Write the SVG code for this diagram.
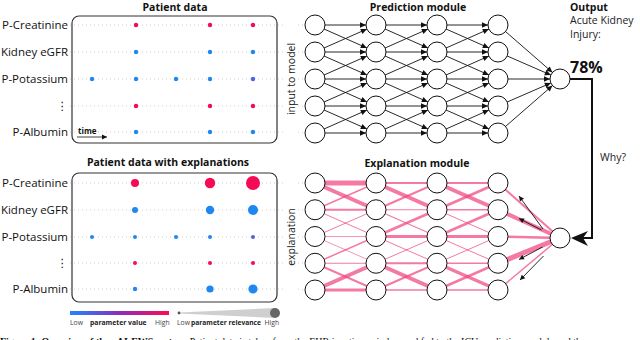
<svg xmlns="http://www.w3.org/2000/svg" width="640" height="340" viewBox="0 0 640 340">
<style>
.lbl{font-family:"Open Sans","Noto Sans","DejaVu Sans",sans-serif;font-size:11.5px;fill:#111}
.ttl{font-family:"Open Sans","Noto Sans","DejaVu Sans",sans-serif;font-size:10.5px;font-weight:bold;fill:#111}
.txt{font-family:"Open Sans","Noto Sans","DejaVu Sans",sans-serif;font-size:10.5px;fill:#222}
.leg{font-family:"Open Sans","Noto Sans","DejaVu Sans",sans-serif;font-size:6.8px;fill:#444}
.box{fill:none;stroke:#333;stroke-width:1.2}
.dot{stroke:#c4c4c4;stroke-width:0.8;stroke-dasharray:1 3}
.nd{fill:#fff;stroke:#111;stroke-width:1}
.pc line{stroke:#111;stroke-width:0.9}
.ec line{stroke:#f0457f;stroke-opacity:0.72}
.r{fill:#f50a55}.b{fill:#1f87f0}.p{fill:#4b63e6}
</style>
<defs>
<marker id="ah" markerUnits="userSpaceOnUse" markerWidth="20" markerHeight="10" refX="0" refY="0" orient="auto" overflow="visible">
<path d="M-16,-2.8 L-10,0 L-16,2.8 z" fill="#111"/>
</marker>
<marker id="sa" markerUnits="userSpaceOnUse" markerWidth="10" markerHeight="10" refX="0" refY="0" orient="auto" overflow="visible">
<path d="M-5,-2.5 L0,0 L-5,2.5 z" fill="#111"/>
</marker>
<linearGradient id="pv" x1="0" x2="1" y1="0" y2="0">
<stop offset="0" stop-color="#1e88ff"/>
<stop offset="0.5" stop-color="#8a2cc0"/>
<stop offset="1" stop-color="#ff0a50"/>
</linearGradient>
</defs>

<!-- titles -->
<text class="ttl" x="175" y="11" text-anchor="middle">Patient data</text>
<text class="ttl" x="168" y="166" text-anchor="middle">Patient data with explanations</text>
<text class="ttl" x="418" y="11" text-anchor="middle">Prediction  module</text>
<text class="ttl" x="417" y="167" text-anchor="middle">Explanation module</text>

<!-- patient data panel -->
<g id="patient-data">
<line class="dot" x1="70" y1="25" x2="283" y2="25"/><line class="dot" x1="298" y1="25" x2="304" y2="25"/>
<line class="dot" x1="70" y1="52" x2="283" y2="52"/><line class="dot" x1="298" y1="52" x2="304" y2="52"/>
<line class="dot" x1="70" y1="79" x2="283" y2="79"/><line class="dot" x1="298" y1="79" x2="304" y2="79"/>
<line class="dot" x1="70" y1="106" x2="283" y2="106"/><line class="dot" x1="298" y1="106" x2="304" y2="106"/>
<line class="dot" x1="70" y1="132" x2="283" y2="132"/><line class="dot" x1="298" y1="132" x2="304" y2="133"/>
<rect class="box" x="72" y="16" width="205" height="127" rx="7"/>
<text class="lbl" x="68" y="29" text-anchor="end">P-Creatinine</text>
<text class="lbl" x="68" y="56" text-anchor="end">Kidney eGFR</text>
<text class="lbl" x="68" y="83" text-anchor="end">P-Potassium</text>
<text class="lbl" x="68" y="110" text-anchor="end">⋮</text>
<text class="lbl" x="68" y="136" text-anchor="end">P-Albumin</text>
<circle class="r" cx="136" cy="25" r="2.2"/><circle class="r" cx="210" cy="25" r="2.2"/><circle class="r" cx="253" cy="25" r="2.2"/>
<circle class="b" cx="136" cy="52" r="2.2"/><circle class="b" cx="210" cy="52" r="2.2"/><circle class="b" cx="253" cy="52" r="2.2"/>
<circle class="b" cx="92" cy="79" r="2.2"/><circle class="b" cx="136" cy="79" r="2.2"/><circle class="b" cx="176" cy="79" r="2.2"/><circle class="b" cx="210" cy="79" r="2.2"/><circle class="p" cx="253" cy="79" r="2.2"/>
<circle class="r" cx="136" cy="106" r="2.2"/><circle class="r" cx="210" cy="106" r="2.2"/><circle class="r" cx="253" cy="106" r="2.2"/>
<circle class="b" cx="136" cy="132" r="2.2"/><circle class="b" cx="210" cy="132" r="2.2"/><circle class="b" cx="253" cy="132" r="2.2"/>
<text x="78" y="134" style="font-family:'Open Sans','DejaVu Sans',sans-serif;font-size:8px;font-weight:bold;fill:#111">time</text>
<line x1="77" y1="137" x2="107" y2="137" stroke="#111" stroke-width="0.8" marker-end="url(#sa)"/>
</g>

<!-- patient data with explanations -->
<g id="patient-data-explanations">
<line class="dot" x1="70" y1="183" x2="283" y2="183"/><line class="dot" x1="298" y1="183" x2="304" y2="183"/>
<line class="dot" x1="70" y1="210" x2="283" y2="210"/><line class="dot" x1="298" y1="210" x2="304" y2="210"/>
<line class="dot" x1="70" y1="237" x2="283" y2="237"/><line class="dot" x1="298" y1="237" x2="304" y2="237"/>
<line class="dot" x1="70" y1="263" x2="283" y2="263"/><line class="dot" x1="298" y1="263" x2="304" y2="263"/>
<line class="dot" x1="70" y1="289" x2="283" y2="289"/><line class="dot" x1="298" y1="289" x2="304" y2="290"/>
<rect class="box" x="72" y="173" width="205" height="129" rx="7"/>
<text class="lbl" x="68" y="187" text-anchor="end">P-Creatinine</text>
<text class="lbl" x="68" y="214" text-anchor="end">Kidney eGFR</text>
<text class="lbl" x="68" y="241" text-anchor="end">P-Potassium</text>
<text class="lbl" x="68" y="267" text-anchor="end">⋮</text>
<text class="lbl" x="68" y="293" text-anchor="end">P-Albumin</text>
<circle class="r" cx="135" cy="183" r="4"/><circle class="r" cx="210" cy="183" r="5.2"/><circle class="r" cx="253" cy="183" r="7"/>
<circle class="b" cx="135" cy="210" r="3"/><circle class="b" cx="210" cy="210" r="4.2"/><circle class="b" cx="253" cy="210" r="5"/>
<circle class="b" cx="92" cy="237" r="2"/><circle class="b" cx="135" cy="237" r="2"/><circle class="b" cx="176" cy="237" r="2"/><circle class="b" cx="210" cy="237" r="2"/><circle class="p" cx="253" cy="237" r="2"/>
<circle class="r" cx="135" cy="263" r="2"/><circle class="r" cx="210" cy="263" r="2"/><circle class="r" cx="253" cy="263" r="2"/>
<circle class="b" cx="135" cy="289" r="2.2"/><circle class="b" cx="210" cy="289" r="3.6"/><circle class="b" cx="253" cy="289" r="4.6"/>
</g>

<!-- legend -->
<g id="legend">
<rect x="70" y="311" width="99" height="4" fill="url(#pv)"/>
<text class="leg" x="70" y="325">Low</text>
<text class="leg" x="90" y="325" font-weight="bold" style="fill:#222">parameter value</text>
<text class="leg" x="155" y="325">High</text>
<polygon points="179,312.6 275,308 275,318 179,313.4" fill="#cfcfcf"/>
<circle cx="179" cy="313" r="1.4" fill="#555"/>
<circle cx="275" cy="313" r="5" fill="#666"/>
<text class="leg" x="177" y="325">Low</text>
<text class="leg" x="191" y="325" font-weight="bold" style="fill:#222" textLength="70" lengthAdjust="spacingAndGlyphs">parameter relevance</text>
<text class="leg" x="264.5" y="325">High</text>
</g>

<!-- vertical labels -->
<text class="txt" transform="translate(295,79) rotate(-90)" text-anchor="middle">input to model</text>
<text class="txt" transform="translate(295,237) rotate(-90)" text-anchor="middle">explanation</text>

<!-- connectors -->
<g id="connectors">
<g class="pc" marker-end="url(#ah)">
<line x1="315" y1="25" x2="376" y2="25"/><line x1="315" y1="25" x2="376" y2="52"/>
<line x1="315" y1="52" x2="376" y2="25"/><line x1="315" y1="52" x2="376" y2="52"/><line x1="315" y1="52" x2="376" y2="79"/>
<line x1="315" y1="79" x2="376" y2="52"/><line x1="315" y1="79" x2="376" y2="79"/><line x1="315" y1="79" x2="376" y2="106"/>
<line x1="315" y1="106" x2="376" y2="79"/><line x1="315" y1="106" x2="376" y2="106"/><line x1="315" y1="106" x2="376" y2="133"/>
<line x1="315" y1="133" x2="376" y2="106"/><line x1="315" y1="133" x2="376" y2="133"/>
<line x1="376" y1="25" x2="437" y2="25"/><line x1="376" y1="25" x2="437" y2="52"/>
<line x1="376" y1="52" x2="437" y2="25"/><line x1="376" y1="52" x2="437" y2="52"/><line x1="376" y1="52" x2="437" y2="79"/>
<line x1="376" y1="79" x2="437" y2="52"/><line x1="376" y1="79" x2="437" y2="79"/><line x1="376" y1="79" x2="437" y2="106"/>
<line x1="376" y1="106" x2="437" y2="79"/><line x1="376" y1="106" x2="437" y2="106"/><line x1="376" y1="106" x2="437" y2="133"/>
<line x1="376" y1="133" x2="437" y2="106"/><line x1="376" y1="133" x2="437" y2="133"/>
<line x1="437" y1="25" x2="498" y2="25"/><line x1="437" y1="25" x2="498" y2="52"/>
<line x1="437" y1="52" x2="498" y2="25"/><line x1="437" y1="52" x2="498" y2="52"/><line x1="437" y1="52" x2="498" y2="79"/>
<line x1="437" y1="79" x2="498" y2="52"/><line x1="437" y1="79" x2="498" y2="79"/><line x1="437" y1="79" x2="498" y2="106"/>
<line x1="437" y1="106" x2="498" y2="79"/><line x1="437" y1="106" x2="498" y2="106"/><line x1="437" y1="106" x2="498" y2="133"/>
<line x1="437" y1="133" x2="498" y2="106"/><line x1="437" y1="133" x2="498" y2="133"/>
<line x1="498" y1="25" x2="560" y2="79"/><line x1="498" y1="52" x2="560" y2="79"/><line x1="498" y1="79" x2="560" y2="79"/><line x1="498" y1="106" x2="560" y2="79"/><line x1="498" y1="133" x2="560" y2="79"/>
</g>
<g class="ec">
<line x1="315" y1="183" x2="376" y2="183" stroke-width="5"/><line x1="315" y1="183" x2="376" y2="209.75" stroke-width="4"/>
<line x1="315" y1="209.75" x2="376" y2="183" stroke-width="1.5"/><line x1="315" y1="209.75" x2="376" y2="209.75" stroke-width="2"/><line x1="315" y1="209.75" x2="376" y2="236.5" stroke-width="1"/>
<line x1="315" y1="236.5" x2="376" y2="209.75" stroke-width="1"/><line x1="315" y1="236.5" x2="376" y2="236.5" stroke-width="0.8"/><line x1="315" y1="236.5" x2="376" y2="263.25" stroke-width="0.8"/>
<line x1="315" y1="263.25" x2="376" y2="236.5" stroke-width="1.5"/><line x1="315" y1="263.25" x2="376" y2="263.25" stroke-width="1"/><line x1="315" y1="263.25" x2="376" y2="290" stroke-width="2"/>
<line x1="315" y1="290" x2="376" y2="263.25" stroke-width="4"/><line x1="315" y1="290" x2="376" y2="290" stroke-width="3"/>
<line x1="376" y1="183" x2="437" y2="183" stroke-width="2"/><line x1="376" y1="183" x2="437" y2="209.75" stroke-width="4"/>
<line x1="376" y1="209.75" x2="437" y2="183" stroke-width="2"/><line x1="376" y1="209.75" x2="437" y2="209.75" stroke-width="1"/><line x1="376" y1="209.75" x2="437" y2="236.5" stroke-width="1.2"/>
<line x1="376" y1="236.5" x2="437" y2="209.75" stroke-width="2.5"/><line x1="376" y1="236.5" x2="437" y2="236.5" stroke-width="3"/><line x1="376" y1="236.5" x2="437" y2="263.25" stroke-width="1"/>
<line x1="376" y1="263.25" x2="437" y2="236.5" stroke-width="1"/><line x1="376" y1="263.25" x2="437" y2="263.25" stroke-width="2"/><line x1="376" y1="263.25" x2="437" y2="290" stroke-width="4"/>
<line x1="376" y1="290" x2="437" y2="263.25" stroke-width="2"/><line x1="376" y1="290" x2="437" y2="290" stroke-width="1.5"/>
<line x1="437" y1="183" x2="498" y2="183" stroke-width="2"/><line x1="437" y1="183" x2="498" y2="209.75" stroke-width="4"/>
<line x1="437" y1="209.75" x2="498" y2="183" stroke-width="3"/><line x1="437" y1="209.75" x2="498" y2="209.75" stroke-width="1.5"/><line x1="437" y1="209.75" x2="498" y2="236.5" stroke-width="1"/>
<line x1="437" y1="236.5" x2="498" y2="209.75" stroke-width="2.5"/><line x1="437" y1="236.5" x2="498" y2="236.5" stroke-width="3"/><line x1="437" y1="236.5" x2="498" y2="263.25" stroke-width="1"/>
<line x1="437" y1="263.25" x2="498" y2="236.5" stroke-width="1"/><line x1="437" y1="263.25" x2="498" y2="263.25" stroke-width="1.5"/><line x1="437" y1="263.25" x2="498" y2="290" stroke-width="3.5"/>
<line x1="437" y1="290" x2="498" y2="263.25" stroke-width="2.5"/><line x1="437" y1="290" x2="498" y2="290" stroke-width="1.5"/>
<line x1="498" y1="183" x2="560" y2="238" stroke-width="2"/><line x1="498" y1="209.75" x2="560" y2="238" stroke-width="4"/><line x1="498" y1="236.5" x2="560" y2="238" stroke-width="2.5"/><line x1="498" y1="263.25" x2="560" y2="238" stroke-width="5"/><line x1="498" y1="290" x2="560" y2="238" stroke-width="1.5"/>
</g>
<g stroke="#111" stroke-width="0.9" marker-end="url(#sa)">
<line x1="543" y1="229" x2="519" y2="196"/>
<line x1="541.5" y1="230" x2="519" y2="218.5"/>
<line x1="542.5" y1="247" x2="519" y2="259.5"/>
<line x1="543.5" y1="256" x2="520" y2="280"/>
</g>
<polyline points="570,79 592,79 592,238 582,238" fill="none" stroke="#111" stroke-width="2"/>
<polygon points="571,238 588,231 583,238 588,246" fill="#111"/>
</g>

<!-- nodes -->
<g id="prediction-nodes">
<circle class="nd" cx="315" cy="25" r="10"/><circle class="nd" cx="315" cy="52" r="10"/><circle class="nd" cx="315" cy="79" r="10"/><circle class="nd" cx="315" cy="106" r="10"/><circle class="nd" cx="315" cy="133" r="10"/>
<circle class="nd" cx="376" cy="25" r="10"/><circle class="nd" cx="376" cy="52" r="10"/><circle class="nd" cx="376" cy="79" r="10"/><circle class="nd" cx="376" cy="106" r="10"/><circle class="nd" cx="376" cy="133" r="10"/>
<circle class="nd" cx="437" cy="25" r="10"/><circle class="nd" cx="437" cy="52" r="10"/><circle class="nd" cx="437" cy="79" r="10"/><circle class="nd" cx="437" cy="106" r="10"/><circle class="nd" cx="437" cy="133" r="10"/>
<circle class="nd" cx="498" cy="25" r="10"/><circle class="nd" cx="498" cy="52" r="10"/><circle class="nd" cx="498" cy="79" r="10"/><circle class="nd" cx="498" cy="106" r="10"/><circle class="nd" cx="498" cy="133" r="10"/>
</g>
<g id="prediction-output">
<circle class="nd" cx="560" cy="79" r="10"/>
<text class="ttl" x="570" y="11">Output</text>
<text class="txt" x="570" y="24">Acute Kidney</text>
<text class="txt" x="570" y="38">Injury:</text>
<text x="570" y="73" style="font-family:'Open Sans','Noto Sans',sans-serif;font-size:16px;font-weight:bold;fill:#111">78%</text>
</g>
<g id="explanation-nodes">
<circle class="nd" cx="315" cy="183" r="10"/><circle class="nd" cx="315" cy="209.75" r="10"/><circle class="nd" cx="315" cy="236.5" r="10"/><circle class="nd" cx="315" cy="263.25" r="10"/><circle class="nd" cx="315" cy="290" r="10"/>
<circle class="nd" cx="376" cy="183" r="10"/><circle class="nd" cx="376" cy="209.75" r="10"/><circle class="nd" cx="376" cy="236.5" r="10"/><circle class="nd" cx="376" cy="263.25" r="10"/><circle class="nd" cx="376" cy="290" r="10"/>
<circle class="nd" cx="437" cy="183" r="10"/><circle class="nd" cx="437" cy="209.75" r="10"/><circle class="nd" cx="437" cy="236.5" r="10"/><circle class="nd" cx="437" cy="263.25" r="10"/><circle class="nd" cx="437" cy="290" r="10"/>
<circle class="nd" cx="498" cy="183" r="10"/><circle class="nd" cx="498" cy="209.75" r="10"/><circle class="nd" cx="498" cy="236.5" r="10"/><circle class="nd" cx="498" cy="263.25" r="10"/><circle class="nd" cx="498" cy="290" r="10"/>
</g>
<g id="explanation-output">
<circle class="nd" cx="560" cy="238" r="10"/>
<text class="txt" x="600" y="161">Why?</text>
</g>

<text x="0" y="344.5" style="font-family:'Liberation Serif',serif;font-size:10px;fill:#111"><tspan font-weight="bold">Figure 1: Overview of the xAI-EWS system.</tspan> Patient data is taken from the EHR in a time window and fed to the ICU prediction module and the</text>
</svg>
